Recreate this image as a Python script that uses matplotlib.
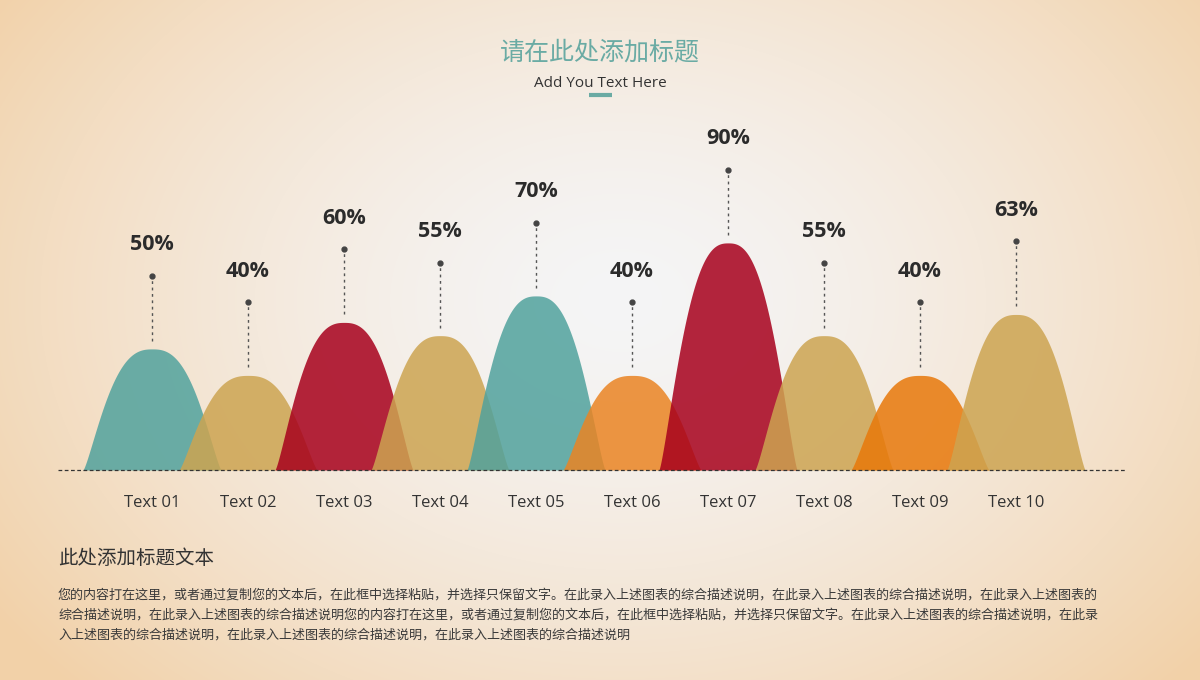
import numpy as np
import matplotlib
matplotlib.use("Agg")
import matplotlib.pyplot as plt
from matplotlib.colors import to_rgb

plt.rcParams['font.family'] = ['Open Sans', 'Noto Sans CJK SC', 'DejaVu Sans']

# ---- data ----
categories = ["Text 01", "Text 02", "Text 03", "Text 04", "Text 05",
              "Text 06", "Text 07", "Text 08", "Text 09", "Text 10"]
values = [50, 40, 60, 55, 70, 40, 90, 55, 40, 63]
colors = ["#6AADA8", "#D3AF67", "#B31F3A", "#D3AF67", "#6AADA8",
          "#EC9440", "#B31F3A", "#D3AF67", "#EA8A2B", "#D3AF67"]
title = "请在此处添加标题"
subtitle = "Add You Text Here"
heading = "此处添加标题文本"
body_lines = [
    "您的内容打在这里，或者通过复制您的文本后，在此框中选择粘贴，并选择只保留文字。在此录入上述图表的综合描述说明，在此录入上述图表的综合描述说明，在此录入上述图表的",
    "综合描述说明，在此录入上述图表的综合描述说明您的内容打在这里，或者通过复制您的文本后，在此框中选择粘贴，并选择只保留文字。在此录入上述图表的综合描述说明，在此录",
    "入上述图表的综合描述说明，在此录入上述图表的综合描述说明，在此录入上述图表的综合描述说明",
]

W, H, DPI = 1200, 680, 100
fig = plt.figure(figsize=(W / DPI, H / DPI), dpi=DPI)

# ---- background radial gradient ----
bg = fig.add_axes([0, 0, 1, 1])
bg.set_axis_off()
yy, xx = np.mgrid[0:H, 0:W]
r = np.sqrt(((xx - 620) / 760.0) ** 2 + ((yy - 300) / 560.0) ** 2)
r = np.clip(r, 0, 1.1)
c0 = np.array(to_rgb("#F5F5F6"))
c1 = np.array(to_rgb("#F2D1A8"))
t = np.clip(r[..., None] ** 1.5, 0, 1)
img = c0 * (1 - t) + c1 * t
bg.imshow(img, extent=[0, W, H, 0], aspect='auto')
bg.set_xlim(0, W)
bg.set_ylim(H, 0)

# ---- chart axes ----
px_per_idx = 96.0
x0_px = 152.0
left_px, right_px = 58.0, 1125.0
base_px = 470.0
px_per_unit = 2.65
ybase = 4.3
ytop = 140
ax = fig.add_axes([left_px / W, (H - base_px) / H,
                   (right_px - left_px) / W, (ytop - ybase) * px_per_unit / H])
ax.set_xlim((left_px - x0_px) / px_per_idx, (right_px - x0_px) / px_per_idx)
ax.set_ylim(ybase, ytop)
ax.set_axis_off()
ax.patch.set_alpha(0)

alpha = 0.85
bgc = np.array(to_rgb("#F5EEE6"))


def comp(c):
    c = np.array(to_rgb(c))
    return tuple(np.clip((c - (1 - alpha) * bgc) / alpha, 0, 1))


half = 0.72
for i, (v, c) in enumerate(zip(values, colors)):
    xs = np.linspace(-half, half, 400)
    f = np.clip(1 - np.abs(xs / half) ** 2.6, 0, 1) ** 1.3
    ys = ybase + (v - ybase) * f
    ax.fill_between(i + xs, ybase, ys, color=comp(c), alpha=alpha,
                    linewidth=0, zorder=2 + i)
    # dotted leader
    top = v + 73 / px_per_unit
    ax.plot([i, i], [v + 8 / px_per_unit, top], ls=(0, (2.0, 2.6)), color="#555555",
            lw=1.0, zorder=20)
    ax.plot([i], [top], 'o', ms=3.5, color="#444444", zorder=21)
    ax.annotate(f"{v}%", (i, top), xytext=(0, 22.5), textcoords='offset points',
                ha='center', va='center', fontsize=15.5, fontweight='bold',
                color="#2B2B2B", zorder=22)
    ax.annotate(categories[i], (i, ybase), xytext=(0, -23.5), textcoords='offset points',
                ha='center', va='center', fontsize=12, color="#333333")

ax.axhline(ybase, color="#333333", lw=0.9, ls=(0, (3, 2)), zorder=30, clip_on=False)

# ---- texts ----
fig.text(600 / W, 1 - 53 / H, title, ha='center', va='center', fontsize=18,
         color="#6AABA4", family=['Noto Sans CJK SC'])
fig.text(600 / W, 1 - 83.5 / H, subtitle, ha='center', va='center', fontsize=11,
         color="#333333")
bg.plot([589, 612], [95, 95], color="#6AABA4", lw=3, solid_capstyle='butt')

fig.text(58 / W, 1 - 559 / H, heading, ha='left', va='center', fontsize=14,
         color="#333333", family=['Noto Sans CJK SC'])
for k, line in enumerate(body_lines):
    fig.text(58 / W, 1 - (595 + 20 * k) / H, line, ha='left', va='center',
             fontsize=9.4, color="#3A3A3A", family=['Noto Sans CJK SC'])

fig.savefig("out.png", dpi=DPI)
